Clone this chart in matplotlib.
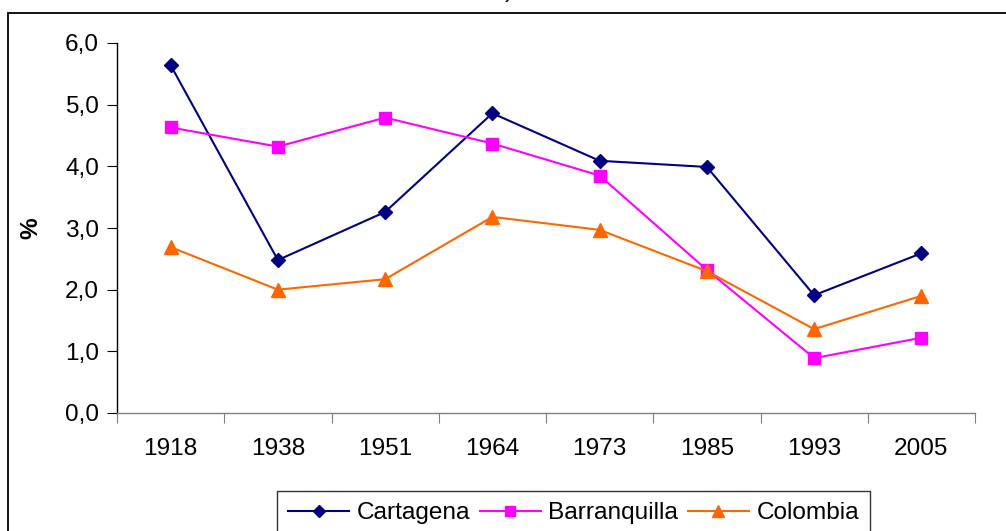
import matplotlib
matplotlib.use("Agg")
import matplotlib.pyplot as plt
from matplotlib.patches import Rectangle

years = ["1918", "1938", "1951", "1964", "1973", "1985", "1993", "2005"]
cartagena = [5.64, 2.48, 3.26, 4.86, 4.09, 3.99, 1.91, 2.59]
barranquilla = [4.63, 4.32, 4.79, 4.37, 3.85, 2.32, 0.89, 1.22]
colombia = [2.69, 2.00, 2.17, 3.18, 2.97, 2.30, 1.36, 1.90]
yticks = [0.0, 1.0, 2.0, 3.0, 4.0, 5.0, 6.0]
ytick_labels = ["0,0", "1,0", "2,0", "3,0", "4,0", "5,0", "6,0"]

plt.rcParams['font.family'] = ['Liberation Sans', 'DejaVu Sans']

W, H = 1006, 531
FS = 17.6
fig = plt.figure(figsize=(W / 100, H / 100), dpi=100)
fig.patch.set_facecolor("white")

# outer chart border (extends beyond the image at right/bottom)
fig.patches.append(Rectangle((8 / W, -0.2), 1.3, 1.2 - 12.5 / H, transform=fig.transFigure,
                             fill=False, edgecolor="black", linewidth=1.3, zorder=0))
# clipped title remnant
fig.text(509 / W, 1 + 9 / H, ")", ha="center", va="center", fontsize=FS)

ax = fig.add_axes([117 / W, 1 - 413 / H, (975 - 117) / W, (413 - 43) / H])
x = list(range(len(years)))
ax.plot(x, cartagena, color="#000080", marker="D", markersize=7, linewidth=1.5, label="Cartagena")
ax.plot(x, barranquilla, color="#FF00FF", marker="s", markersize=8, linewidth=1.5, label="Barranquilla")
ax.plot(x, colombia, color="#FF6600", marker="^", markersize=10, linewidth=1.5, label="Colombia")

ax.set_xlim(-0.5, len(years) - 0.5)
ax.set_ylim(0, 6)
ax.set_yticks(yticks)
ax.set_yticklabels(ytick_labels, fontsize=FS)
ax.set_xticks([i + 0.5 for i in range(-1, len(years))], minor=False)
ax.set_xticklabels([""] * (len(years) + 1))
ax.set_xticks(x, minor=True)
ax.set_xticklabels(years, minor=True, fontsize=FS)
ax.tick_params(axis="x", which="major", length=7, width=0.8, color="#808080", direction="out")
ax.tick_params(axis="x", which="minor", length=0, pad=18)
ax.tick_params(axis="y", length=7, width=0.8, direction="out", pad=6)

for s in ["top", "right"]:
    ax.spines[s].set_visible(False)
ax.spines["left"].set_linewidth(1.0)
ax.spines["bottom"].set_linewidth(1.0)
ax.spines["bottom"].set_color("#808080")
ax.set_ylabel("%", fontsize=FS, fontweight="bold", labelpad=16)

leg = fig.legend(loc="upper left", bbox_to_anchor=(277 / W, 1 - 491 / H), ncol=3,
                 fontsize=FS, frameon=True, fancybox=False, edgecolor="black",
                 handlelength=2.5, handletextpad=0.3, columnspacing=0.4,
                 borderpad=0.45, borderaxespad=0, markerscale=0.9)
leg.get_frame().set_linewidth(1.0)

fig.savefig("out.png", dpi=100)
